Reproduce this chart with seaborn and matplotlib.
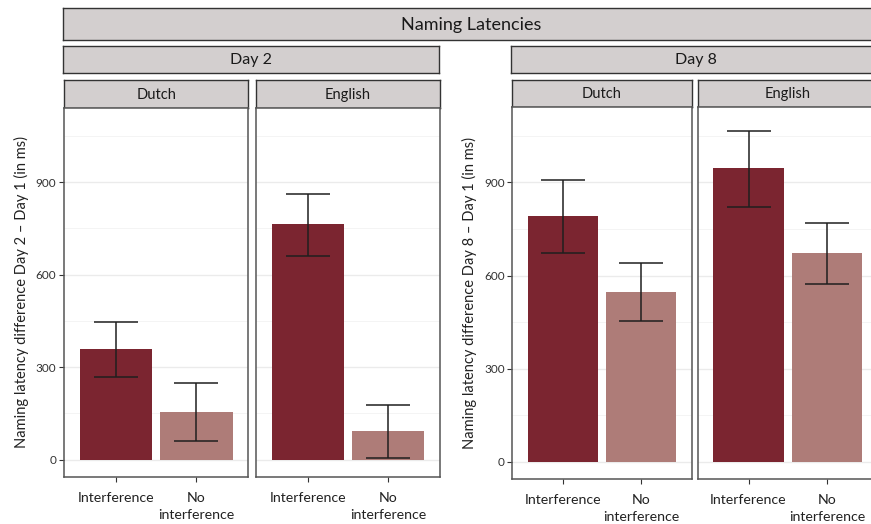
import matplotlib
matplotlib.use("Agg")
import matplotlib.pyplot as plt
import seaborn as sns
import pandas as pd
import numpy as np

# ---- data ----
days = ["Day 2", "Day 8"]
languages = ["Dutch", "English"]
conditions = ["Interference", "No interference"]
tick_labels = ["Interference", "No\ninterference"]

day2_dutch_mean = [360, 155]
day2_dutch_low = [267, 62]
day2_dutch_high = [448, 250]

day2_english_mean = [765, 92]
day2_english_low = [662, 5]
day2_english_high = [861, 178]

day8_dutch_mean = [791, 548]
day8_dutch_low = [673, 455]
day8_dutch_high = [908, 641]

day8_english_mean = [945, 674]
day8_english_low = [822, 574]
day8_english_high = [1067, 770]

y_ticks = [0, 300, 600, 900]
y_minor = [150, 450, 750, 1050]

panels = {
    ("Day 2", "Dutch"): (day2_dutch_mean, day2_dutch_low, day2_dutch_high),
    ("Day 2", "English"): (day2_english_mean, day2_english_low, day2_english_high),
    ("Day 8", "Dutch"): (day8_dutch_mean, day8_dutch_low, day8_dutch_high),
    ("Day 8", "English"): (day8_english_mean, day8_english_low, day8_english_high),
}

palette = {"Interference": "#7B2530", "No interference": "#AE7C78"}

# ---- styling ----
sns.set_theme(style="white")
plt.rcParams["font.family"] = ["Lato", "DejaVu Sans"]

W, H = 871, 524
fig = plt.figure(figsize=(W / 100, H / 100), dpi=100)
fig.patch.set_facecolor("white")


def box(x0, y0, x1, y1):
    return [x0 / W, 1 - y1 / H, (x1 - x0) / W, (y1 - y0) / H]


STRIP_FC = "#D3CFCF"
STRIP_EC = "#333333"


def strip(x0, y0, x1, y1, text, size):
    a = fig.add_axes(box(x0, y0, x1, y1))
    a.set_facecolor(STRIP_FC)
    a.set_xticks([])
    a.set_yticks([])
    for s in a.spines.values():
        s.set_color(STRIP_EC)
        s.set_linewidth(1.0)
        s.set_visible(True)
    a.text(0.5, 0.47, text, ha="center", va="center", fontsize=size,
           color="#1a1a1a", transform=a.transAxes)
    return a


# strips
strip(63, 8, 880, 40, "Naming Latencies", 13)
strip(63, 46, 439, 73, "Day 2", 11.5)
strip(511, 46, 880, 73, "Day 8", 11.5)

panel_boxes = {
    ("Day 2", "Dutch"): (64, 107.5, 248.3, 476.7),
    ("Day 2", "English"): (256, 107.5, 440, 476.7),
    ("Day 8", "Dutch"): (512.3, 107.3, 691.7, 479),
    ("Day 8", "English"): (698, 107.3, 877.4, 479),
}

for (day, lang), (x0, y0, x1, y1) in panel_boxes.items():
    strip(x0, 80, x1, y0, lang, 10.5)
    mean, low, high = panels[(day, lang)]
    df = pd.DataFrame({"condition": conditions, "value": mean})
    ax = fig.add_axes(box(x0, y0, x1, y1))
    ax.set_facecolor("white")
    # grid
    ax.set_yticks(y_ticks)
    ax.set_yticks(y_minor, minor=True)
    ax.grid(True, which="major", axis="both", color="#EBEBEB", lw=1.0, zorder=0)
    ax.grid(True, which="minor", axis="y", color="#F2F2F2", lw=0.6, zorder=0)
    ax.set_axisbelow(True)
    sns.barplot(data=df, x="condition", y="value", hue="condition",
                palette=palette, order=conditions, hue_order=conditions,
                width=0.9, errorbar=None, legend=False, ax=ax,
                saturation=1, linewidth=0, zorder=2)
    mean_a = np.array(mean, dtype=float)
    yerr = np.vstack([mean_a - np.array(low), np.array(high) - mean_a])
    ax.errorbar(np.arange(len(conditions)), mean_a, yerr=yerr, fmt="none",
                ecolor="#1f1f1f", elinewidth=1.1, capsize=15.5,
                capthick=1.1, zorder=3)
    ax.set_xlim(-0.645, 1.645)
    ax.set_ylim(-55, 1142)
    ax.set_xticks(range(len(conditions)))
    ax.set_xticklabels(tick_labels, fontsize=10.2, color="#222222",
                       linespacing=1.5, va="top")
    ax.set_xlabel("")
    ax.set_ylabel("")
    ax.tick_params(axis="x", which="major", length=3.5, width=0.8,
                   color="#333333", pad=7.5, bottom=True)
    ax.tick_params(axis="y", which="major", length=3.5, width=0.8,
                   color="#333333", pad=2, labelsize=8.5,
                   labelcolor="#333333", left=(lang == "Dutch"))
    ax.tick_params(axis="y", which="minor", length=0)
    if lang != "Dutch":
        ax.set_yticklabels([])
    for s in ax.spines.values():
        s.set_visible(True)
        s.set_color("#555555")
        s.set_linewidth(1.1)
    if lang == "Dutch":
        ax.set_ylabel(f"Naming latency difference {day} \u2013 Day 1 (in ms)",
                      fontsize=10.5, color="#222222", labelpad=5)

fig.savefig("out.png", dpi=100, facecolor="white")
